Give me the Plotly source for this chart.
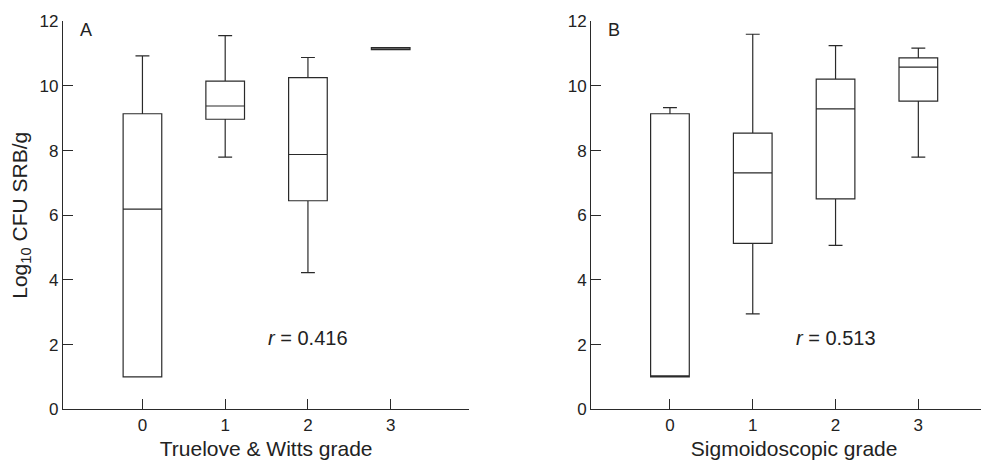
import plotly.graph_objects as go

# Panel A: Truelove & Witts grade
grades = [0, 1, 2, 3]
a_low = [1.0, 7.80, 4.23, 11.12]
a_q1 = [1.0, 8.97, 6.45, 11.12]
a_med = [6.19, 9.38, 7.88, 11.15]
a_q3 = [9.14, 10.15, 10.26, 11.19]
a_high = [10.93, 11.56, 10.88, 11.19]

# Panel B: Sigmoidoscopic grade
b_low = [1.0, 2.95, 5.07, 7.80]
b_q1 = [1.0, 5.13, 6.51, 9.53]
b_med = [1.0, 7.31, 9.29, 10.58]
b_q3 = [9.14, 8.54, 10.21, 10.87]
b_high = [9.33, 11.60, 11.25, 11.17]

y_ticks = [0, 2, 4, 6, 8, 10, 12]
x_ticks = [0, 1, 2, 3]

LINE = "#2a2a2a"
FONT = "Liberation Sans, Arial, sans-serif"
W, H = 989, 461
OFF = 8  # page body margin

fig = go.Figure()

box_style = dict(
    line=dict(color=LINE, width=1.2),
    fillcolor="rgba(0,0,0,0)",
    width=0.467,
    whiskerwidth=0.36,
    boxpoints=False,
    orientation="v",
    showlegend=False,
    hoverinfo="skip",
)

fig.add_trace(go.Box(x=grades, q1=a_q1, median=a_med, q3=a_q3,
                     lowerfence=a_low, upperfence=a_high,
                     xaxis="x", yaxis="y", **box_style))
fig.add_trace(go.Box(x=grades, q1=b_q1, median=b_med, q3=b_q3,
                     lowerfence=b_low, upperfence=b_high,
                     xaxis="x2", yaxis="y2", **box_style))

def px_x(p):
    return (p - OFF) / W

def px_y(p):
    return 1 - (p - OFF) / H

ydom = [px_y(409.3), px_y(21.3)]

axis_common = dict(
    showline=True, linecolor=LINE, linewidth=1.3,
    ticks="inside", ticklen=10, tickwidth=1.3, tickcolor=LINE,
    showgrid=False, zeroline=False,
    tickfont=dict(family=FONT, size=17, color="#222"),
)

fig.update_layout(
    width=W, height=H,
    margin=dict(l=0, r=0, t=0, b=0, autoexpand=False),
    paper_bgcolor="white", plot_bgcolor="white",
    font=dict(family=FONT, color="#222"),
    xaxis=dict(domain=[px_x(63), px_x(469.3)], range=[-0.96, 3.95],
               tickvals=x_ticks, anchor="y", automargin=False,
               title=dict(text="Truelove & Witts grade", font=dict(size=21, family=FONT), standoff=7),
               **axis_common),
    yaxis=dict(domain=ydom, range=[0, 12], tickvals=y_ticks, anchor="x", automargin=False,
               title=dict(text="Log<sub>10</sub> CFU SRB/g", font=dict(size=21, family=FONT), standoff=6),
               **axis_common),
    xaxis2=dict(domain=[px_x(591.3), 1.0], range=[-0.95, 3.95],
                tickvals=x_ticks, anchor="y2", automargin=False,
                title=dict(text="Sigmoidoscopic grade", font=dict(size=21, family=FONT), standoff=7),
                **axis_common),
    yaxis2=dict(domain=ydom, range=[0, 12], tickvals=y_ticks, anchor="x2", automargin=False,
                **axis_common),
)

fig.add_annotation(text="A", xref="paper", yref="paper", x=px_x(78), y=px_y(30),
                   xanchor="left", yanchor="middle", showarrow=False,
                   font=dict(size=18, family=FONT, color="#222"))
fig.add_annotation(text="B", xref="paper", yref="paper", x=px_x(606), y=px_y(30),
                   xanchor="left", yanchor="middle", showarrow=False,
                   font=dict(size=18, family=FONT, color="#222"))
fig.add_annotation(text="<i>r</i> = 0.416", xref="x", yref="y", x=2.0, y=2.2,
                   showarrow=False, font=dict(size=20, family=FONT, color="#222"))
fig.add_annotation(text="<i>r</i> = 0.513", xref="x2", yref="y2", x=2.0, y=2.2,
                   showarrow=False, font=dict(size=20, family=FONT, color="#222"))

fig.write_html("out.html")
